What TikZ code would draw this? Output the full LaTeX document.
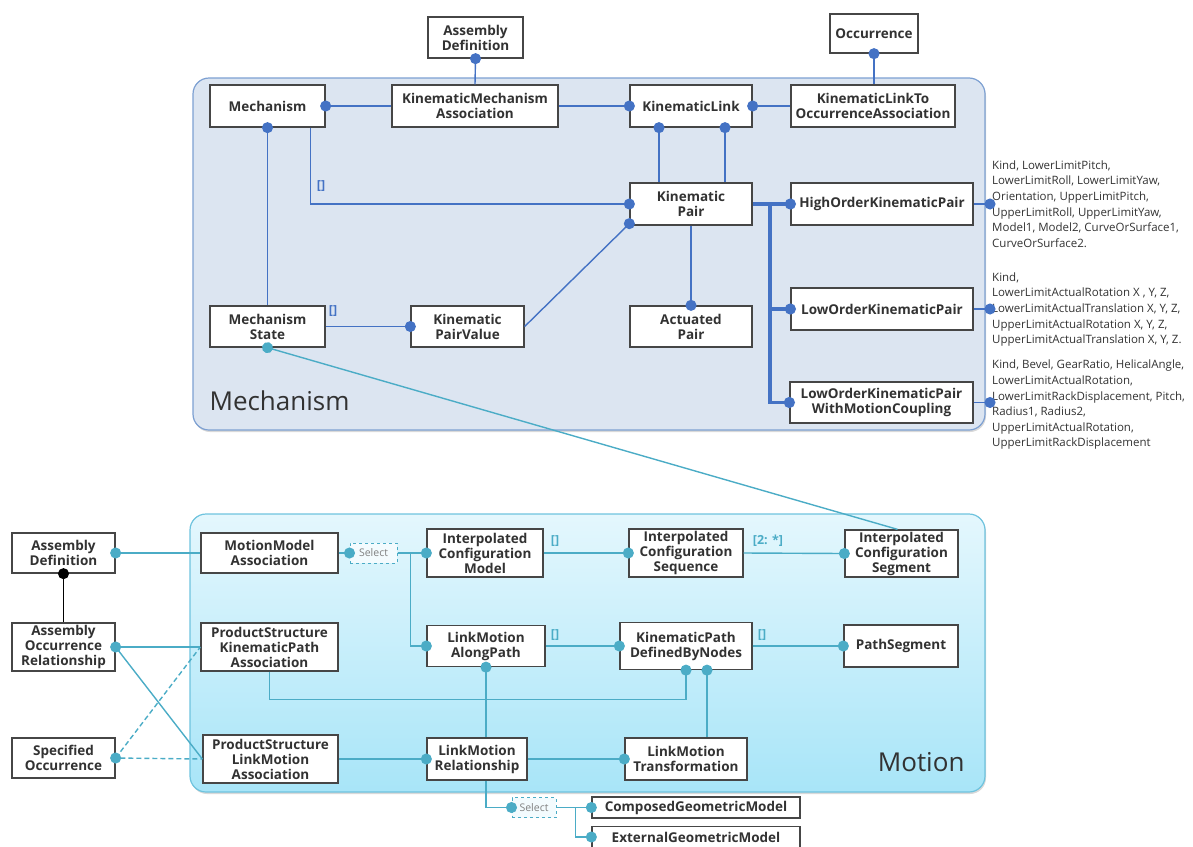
\documentclass[tikz,border=0pt]{standalone}
\usepackage{fontspec}
\setmainfont{Open Sans}
\definecolor{mechfill}{RGB}{220,229,241}
\definecolor{mechborder}{RGB}{125,160,210}
\definecolor{myDarkBlue}{RGB}{68,114,196}
\definecolor{myTeal}{RGB}{75,172,198}
\definecolor{motiontop}{RGB}{228,247,253}
\definecolor{motionbottom}{RGB}{168,229,248}
\definecolor{motionborder}{RGB}{110,195,222}
\definecolor{boxgray}{RGB}{70,70,70}
\definecolor{textgray}{RGB}{50,50,50}
\usetikzlibrary{arrows.meta,shadows}

\begin{document}
\begin{tikzpicture}[x=1pt, y=-1pt,
    classbox/.style={rectangle, draw=boxgray, line width=1.3pt, fill=white, align=center, text=textgray, inner sep=1pt, font=\fontsize{13.5}{15}\selectfont\bfseries},
    selectbox/.style={rectangle, draw=myTeal, dashed, line width=1pt, fill=white!55!motiontop, text=gray, inner sep=1pt, minimum height=20pt, font=\fontsize{10.5}{12}\selectfont},
    attrtext/.style={anchor=west, align=left, text=textgray, inner sep=2pt, font=\fontsize{11.5}{15.6}\selectfont},
    multlabel/.style={inner sep=1pt, font=\fontsize{12.5}{14}\selectfont\bfseries},
    mech/.style={draw=myDarkBlue, line width=1.4pt},
    motion/.style={draw=myTeal, line width=1.4pt},
    dotstart/.style={{Circle[length=11pt, width=11pt]}-, shorten <=-5.5pt},
    dotend/.style={-{Circle[length=11pt, width=11pt]}, shorten >=-5.5pt}]
    \useasboundingbox (0,0) rectangle (1193,846);

    \draw[draw=mechborder, fill=mechfill, line width=1.2pt, rounded corners=16pt, drop shadow={shadow xshift=1pt, shadow yshift=-2pt, opacity=0.3}] (193,78) rectangle (985,430);
    \node[anchor=west, text=textgray, font=\fontsize{26}{30}\selectfont] (mechtitle) at (206,401) {Mechanism};

    \draw[draw=motionborder, top color=motiontop, bottom color=motionbottom, line width=1.2pt, rounded corners=16pt, drop shadow={shadow xshift=1pt, shadow yshift=-2pt, opacity=0.3}] (190,514) rectangle (985,792);
    \node[anchor=east, text=textgray, font=\fontsize{26}{30}\selectfont] (motiontitle) at (968,762) {Motion};

    \node[classbox, minimum width=95pt, minimum height=41pt] (asmdeftop) at (475.5,37.5) {Assembly\\Definition};
    \node[classbox, minimum width=88pt, minimum height=39pt] (occurrence) at (874,33.5) {Occurrence};
    \node[classbox, minimum width=115pt, minimum height=42pt] (mechanism) at (267.5,106) {Mechanism};
    \node[classbox, minimum width=166pt, minimum height=42pt] (kinmechassoc) at (475,106) {KinematicMechanism\\Association};
    \node[classbox, minimum width=122pt, minimum height=42pt] (kinlink) at (691,106) {KinematicLink};
    \node[classbox, minimum width=164pt, minimum height=42pt] (linkoccassoc) at (873,106) {KinematicLinkTo\\OccurrenceAssociation};
    \node[classbox, minimum width=122pt, minimum height=42pt] (kinpair) at (691,204) {Kinematic\\Pair};
    \node[classbox, minimum width=182pt, minimum height=42pt] (highorder) at (882,204) {HighOrderKinematicPair};
    \node[classbox, minimum width=115pt, minimum height=41pt] (mechstate) at (267.5,326.5) {Mechanism\\State};
    \node[classbox, minimum width=113pt, minimum height=41pt] (pairvalue) at (467.5,326.5) {Kinematic\\PairValue};
    \node[classbox, minimum width=122pt, minimum height=41pt] (actuated) at (691,326.5) {Actuated\\Pair};
    \node[classbox, minimum width=182pt, minimum height=42pt] (loworder) at (882,309) {LowOrderKinematicPair};
    \node[classbox, minimum width=183pt, minimum height=41pt] (lowcoupling) at (881.5,402.5) {LowOrderKinematicPair\\WithMotionCoupling};

    \node[attrtext] (attrhigh) at (990,204) {Kind, LowerLimitPitch,\\LowerLimitRoll, LowerLimitYaw,\\Orientation, UpperLimitPitch,\\UpperLimitRoll, UpperLimitYaw,\\Model1, Model2, CurveOrSurface1,\\CurveOrSurface2.};
    \node[attrtext] (attrlow) at (990,309.5) {Kind,\\LowerLimitActualRotation X , Y, Z,\\LowerLimitActualTranslation X, Y, Z,\\UpperLimitActualRotation X, Y, Z,\\UpperLimitActualTranslation X, Y, Z.};
    \node[attrtext] (attrcoupling) at (990,405) {Kind, Bevel, GearRatio, HelicalAngle,\\LowerLimitActualRotation,\\LowerLimitRackDisplacement, Pitch,\\Radius1, Radius2,\\UpperLimitActualRotation,\\UpperLimitRackDisplacement};

    \node[classbox, minimum width=103pt, minimum height=40pt] (asmdefleft) at (63.5,553) {Assembly\\Definition};
    \node[classbox, minimum width=103pt, minimum height=48pt] (asmoccrel) at (63.5,647) {Assembly\\Occurrence\\Relationship};
    \node[classbox, minimum width=103pt, minimum height=40pt] (specocc) at (63.5,758) {Specified\\Occurrence};
    \node[classbox, minimum width=137pt, minimum height=40pt] (mmassoc) at (269.5,553) {MotionModel\\Association};
    \node[classbox, minimum width=137pt, minimum height=48pt] (pskpassoc) at (269.5,647) {ProductStructure\\KinematicPath\\Association};
    \node[classbox, minimum width=135pt, minimum height=48pt] (pslmassoc) at (270.5,759) {ProductStructure\\LinkMotion\\Association};
    \node[classbox, minimum width=116pt, minimum height=48pt] (icmodel) at (485,553) {Interpolated\\Configuration\\Model};
    \node[classbox, minimum width=114pt, minimum height=48pt] (icsequence) at (686,553) {Interpolated\\Configuration\\Sequence};
    \node[classbox, minimum width=113pt, minimum height=47pt] (icsegment) at (901.5,553.5) {Interpolated\\Configuration\\Segment};
    \node[classbox, minimum width=118pt, minimum height=41pt] (lmalongpath) at (486,646) {LinkMotion\\AlongPath};
    \node[classbox, minimum width=132pt, minimum height=47pt] (kpdbnodes) at (686,646) {KinematicPath\\DefinedByNodes};
    \node[classbox, minimum width=114pt, minimum height=42pt] (pathsegment) at (901,646) {PathSegment};
    \node[classbox, minimum width=100pt, minimum height=42pt] (lmrelation) at (477,759) {LinkMotion\\Relationship};
    \node[classbox, minimum width=122pt, minimum height=42pt] (lmtransform) at (686,759) {LinkMotion\\Transformation};
    \node[classbox, minimum width=208pt, minimum height=21pt] (composedgm) at (696,807.5) {ComposedGeometricModel};
    \node[classbox, minimum width=208pt, minimum height=21pt] (externalgm) at (696,837) {ExternalGeometricModel};
    \node[selectbox, minimum width=47pt] (selectpath) at (373.5,553) {Select};
    \node[selectbox, minimum width=44pt] (selectgeom) at (534,807.5) {Select};

    \draw[mech, dotstart] (asmdeftop.south) -- (kinmechassoc.north);
    \draw[mech, dotstart] (mechanism.east) -- (kinmechassoc.west);
    \draw[mech, dotend] (kinmechassoc.east) -- (kinlink.west);
    \draw[mech, dotstart] (kinlink.east) -- (linkoccassoc.west);
    \draw[mech, dotstart] (occurrence.south) -- (occurrence.south |- linkoccassoc.north);
    \draw[mech, dotstart] ([xshift=-32pt]kinlink.south) -- ([xshift=-32pt]kinpair.north);
    \draw[mech, dotstart] ([xshift=34pt]kinlink.south) -- ([xshift=34pt]kinpair.north);
    \draw[mech, dotend] ([xshift=43pt]mechanism.south) |- (kinpair.west);
    \draw[mech, dotstart] (mechanism.south) -- (mechstate.north);
    \draw[mech, dotend] (mechstate.east) -- (pairvalue.west);
    \draw[mech, dotend] (pairvalue.east) -- ([yshift=2pt]kinpair.south west);
    \draw[mech, dotend] (kinpair.south) -- (actuated.north);
    \coordinate (pairjoint) at (770,204);
    \draw[mech, line width=3.5pt, dotend] (kinpair.east) -- (highorder.west);
    \draw[mech, line width=3.5pt, dotend] (pairjoint) |- (loworder.west);
    \draw[mech, line width=3.5pt, dotend] (pairjoint) |- (lowcoupling.west);
    \draw[mech, dotend] (highorder.east) -- (attrhigh.west);
    \draw[mech, dotend] (loworder.east) -- (loworder.east -| attrlow.west);
    \draw[mech, dotend] (lowcoupling.east) -- (lowcoupling.east -| attrcoupling.west);
    \node[multlabel, text=myDarkBlue] (mechmult) at (321,186) {[]};
    \node[multlabel, text=myDarkBlue] (statemult) at (333,311) {[]};

    \draw[motion, dotstart] (mechstate.south) -- ([xshift=-4pt]icsegment.north);

    \draw[motion, dotstart] (asmdefleft.east) -- (mmassoc.west);
    \draw[line width=1.4pt, black, dotstart] (asmdefleft.south) -- (asmoccrel.north);
    \draw[motion, dotstart] (asmoccrel.east) -- (pskpassoc.west);
    \draw[motion] (asmoccrel.east) -- (pslmassoc.west);
    \draw[motion, dash pattern=on 5pt off 3pt, dotstart] (specocc.east) -- (pslmassoc.west);
    \draw[motion, dash pattern=on 5pt off 3pt] (specocc.east) -- (pskpassoc.west);
    \draw[motion, dotend] (mmassoc.east) -- (selectpath.west);
    \draw[motion, dotend] (selectpath.east) -- (icmodel.west);
    \draw[motion, dotend] (selectpath.east) -- ++(13,0) |- (lmalongpath.west);
    \draw[motion, dotend] (icmodel.east) -- (icsequence.west);
    \draw[motion, dotend] (icsequence.east) -- (icsegment.west);
    \draw[motion, dotend] (lmalongpath.east) -- (kpdbnodes.west);
    \draw[motion, dotend] (kpdbnodes.east) -- (pathsegment.west);
    \draw[motion, dotend] (pskpassoc.south) -- ++(0,28) -| (kpdbnodes.south);
    \draw[motion, dotstart] ([xshift=21pt]kpdbnodes.south) -- ([xshift=21pt]lmtransform.north);
    \draw[motion, dotstart] (lmalongpath.south) -- (lmalongpath.south |- lmrelation.north);
    \draw[motion, dotend] (pslmassoc.east) -- (lmrelation.west);
    \draw[motion, dotend] (lmrelation.east) -- (lmtransform.west);
    \draw[motion, dotend] (lmalongpath.south |- lmrelation.south) |- (selectgeom.west);
    \draw[motion, dotend] (selectgeom.east) -- (composedgm.west);
    \draw[motion, dotend] (selectgeom.east) -- ++(19,0) |- (externalgm.west);
    \node[multlabel, text=myTeal] (modelmult) at (555,541) {[]};
    \node[multlabel, text=myTeal] (sequencemult) at (768,541) {[2: *]};
    \node[multlabel, text=myTeal] (pathmult) at (555,635) {[]};
    \node[multlabel, text=myTeal] (nodesmult) at (762,635) {[]};
\end{tikzpicture}
\end{document}
